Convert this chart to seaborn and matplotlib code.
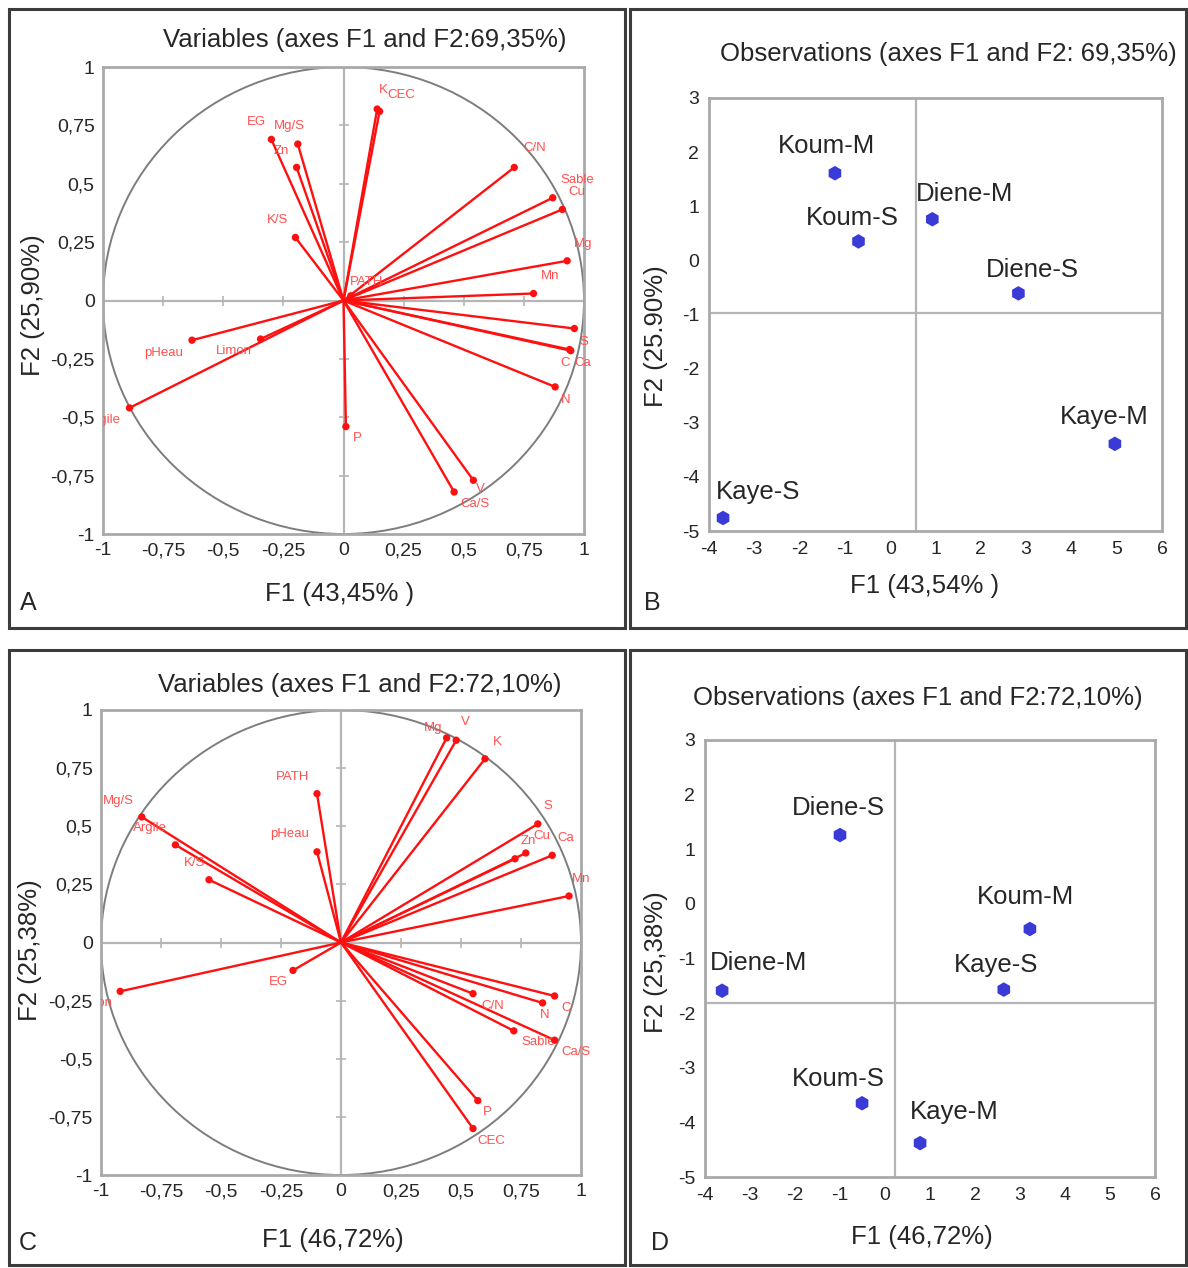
import numpy as np
import pandas as pd
import matplotlib
matplotlib.use('Agg')
import matplotlib.pyplot as plt
from matplotlib.patches import Circle, Rectangle
import seaborn as sns

# --- Panel A : variables (F1 x F2, 69,35%)
a_vars = ['EG', 'Mg/S', 'Zn', 'K/S', 'K', 'CEC', 'C/N', 'Sable', 'Cu', 'Mg', 'Mn', 'PATH',
          'S', 'C', 'Ca', 'N', 'P', 'V', 'Ca/S', 'pHeau', 'Limon', 'Argile']
a_f1 = [-0.30, -0.19, -0.195, -0.20, 0.14, 0.15, 0.71, 0.87, 0.91, 0.93, 0.79, 0.03,
        0.96, 0.94, 0.945, 0.88, 0.01, 0.54, 0.46, -0.63, -0.345, -0.89]
a_f2 = [0.69, 0.67, 0.57, 0.27, 0.82, 0.81, 0.57, 0.44, 0.39, 0.17, 0.03, 0.02,
        -0.12, -0.21, -0.215, -0.37, -0.54, -0.77, -0.82, -0.17, -0.165, -0.46]

# --- Panel C : variables (F1 x F2, 72,10%)
c_vars = ['Mg/S', 'Argile', 'K/S', 'PATH', 'pHeau', 'EG', 'Limon', 'Mg', 'V', 'K', 'S',
          'Cu', 'Zn', 'Ca', 'Mn', 'C', 'N', 'C/N', 'Sable', 'Ca/S', 'P', 'CEC']
c_f1 = [-0.83, -0.69, -0.55, -0.10, -0.10, -0.20, -0.92, 0.44, 0.48, 0.60, 0.82,
        0.77, 0.725, 0.88, 0.95, 0.89, 0.84, 0.55, 0.72, 0.89, 0.57, 0.55]
c_f2 = [0.54, 0.42, 0.27, 0.64, 0.39, -0.12, -0.21, 0.88, 0.87, 0.79, 0.51,
        0.385, 0.36, 0.375, 0.20, -0.23, -0.26, -0.22, -0.38, -0.42, -0.68, -0.80]

# --- Panel B / D : observations
b_obs = ['Koum-M', 'Diene-M', 'Koum-S', 'Diene-S', 'Kaye-M', 'Kaye-S']
b_f1 = [-1.22, 0.93, -0.70, 2.83, 4.96, -3.69]
b_f2 = [1.61, 0.76, 0.35, -0.61, -3.39, -4.76]

d_obs = ['Diene-S', 'Koum-M', 'Diene-M', 'Kaye-S', 'Koum-S', 'Kaye-M']
d_f1 = [-1.00, 3.22, -3.62, 2.64, -0.51, 0.78]
d_f2 = [1.26, -0.46, -1.59, -1.57, -3.65, -4.38]

circle_ticks = [-1, -0.75, -0.5, -0.25, 0, 0.25, 0.5, 0.75, 1]
circle_ticklabels = ['-1', '-0,75', '-0,5', '-0,25', '0', '0,25', '0,5', '0,75', '1']
obs_xticks = list(range(-4, 7))
obs_yticks = list(range(-5, 4))

# label offsets (pixels) for each variable / observation
a_off = {'EG': (-15, 17), 'Mg/S': (-8, 18), 'Zn': (-15, 16), 'K/S': (-18, 17), 'K': (6, 19),
         'CEC': (22, 16), 'C/N': (20, 19), 'Sable': (25, 18), 'Cu': (14, 17), 'Mg': (16, 17),
         'Mn': (17, 17), 'PATH': (16, 14), 'S': (9, -13), 'C': (-4, -13), 'Ca': (12, -12),
         'N': (11, -13), 'P': (11, -11), 'V': (7, -9), 'Ca/S': (21, -12), 'pHeau': (-28, -13),
         'Limon': (-27, -12), 'Argile': (-25, -12)}
c_off = {'Mg/S': (-23, 16), 'Argile': (-25, 17), 'K/S': (-14, 17), 'PATH': (-24, 17),
         'pHeau': (-27, 18), 'EG': (-15, -12), 'Limon': (-25, -12), 'Mg': (-13, 10),
         'V': (9, 18), 'K': (12, 17), 'S': (10, 18), 'Cu': (16, 17), 'Zn': (13, 18),
         'Ca': (14, 17), 'Mn': (12, 17), 'C': (12, -12), 'N': (2, -12), 'C/N': (20, -12),
         'Sable': (24, -11), 'Ca/S': (21, -12), 'P': (10, -11), 'CEC': (18, -12)}
b_off = {'Koum-M': (-8, 27), 'Diene-M': (32, 25), 'Koum-S': (-6, 23), 'Diene-S': (14, 23),
         'Kaye-M': (-11, 27), 'Kaye-S': (35, 26)}
d_off = {'Diene-S': (-2, 27), 'Koum-M': (-4, 32), 'Diene-M': (36, 28), 'Kaye-S': (-8, 25),
         'Koum-S': (-24, 24), 'Kaye-M': (34, 31)}
# labels cut by the left frame in the original
clipped = {'Argile', 'Limon'}

sns.set_style('white')
plt.rcParams['font.family'] = ['Liberation Sans', 'DejaVu Sans']
plt.rcParams['axes.unicode_minus'] = False

W, H = 1188, 1268
fig = plt.figure(figsize=(W / 100, H / 100), dpi=100)


def px_axes(x0, y0, x1, y1):
    return fig.add_axes([x0 / W, 1 - y1 / H, (x1 - x0) / W, (y1 - y0) / H])


def ftext(x, y, s, **kw):
    fig.text(x / W, 1 - y / H, s, **kw)


FRAME = '#a9a9a9'
AXLINE = '#b5b5b5'
TXT = '#262626'
BIG = 18.5


def circle_panel(ax, names, f1, f2, offsets):
    df = pd.DataFrame({'name': names, 'F1': f1, 'F2': f2})
    ax.set_xlim(-1, 1)
    ax.set_ylim(-1, 1)
    ax.axhline(0, color=AXLINE, lw=1.6, zorder=1)
    ax.axvline(0, color=AXLINE, lw=1.6, zorder=1)
    inner = [t for t in circle_ticks if t not in (-1, 0, 1)]
    ax.plot(inner, [0] * len(inner), ls='none', marker='|', ms=7, mew=1.2, color=AXLINE)
    ax.plot([0] * len(inner), inner, ls='none', marker='_', ms=7, mew=1.2, color=AXLINE)
    ax.add_patch(Circle((0, 0), 1, fill=False, ec='#7d7d7d', lw=1.4, zorder=2))
    for _, r in df.iterrows():
        ax.plot([0, r.F1], [0, r.F2], color='#ff1010', lw=1.7, zorder=3)
    sns.scatterplot(data=df, x='F1', y='F2', ax=ax, color='#ff1010', s=28,
                    edgecolor='none', zorder=4, legend=False)
    for _, r in df.iterrows():
        dx, dy = offsets[r['name']]
        ax.annotate(r['name'], (r.F1, r.F2), xytext=(dx, dy), textcoords='offset pixels',
                    ha='center', va='center', fontsize=9.5, color='#ff5050',
                    annotation_clip=False, clip_on=r['name'] in clipped)
    ax.set_xticks(circle_ticks)
    ax.set_xticklabels(circle_ticklabels)
    ax.set_yticks(circle_ticks)
    ax.set_yticklabels(circle_ticklabels)
    ax.tick_params(length=0, labelsize=14, labelcolor=TXT, pad=6)
    ax.set_xlabel('')
    ax.set_ylabel('')
    for sp in ax.spines.values():
        sp.set_color(FRAME)
        sp.set_linewidth(2)


def obs_panel(ax, names, f1, f2, offsets, vx, hy):
    df = pd.DataFrame({'name': names, 'F1': f1, 'F2': f2})
    ax.set_xlim(-4, 6)
    ax.set_ylim(-5, 3)
    ax.axvline(vx, color=AXLINE, lw=1.6, zorder=1)
    ax.axhline(hy, color=AXLINE, lw=1.6, zorder=1)
    sns.scatterplot(data=df, x='F1', y='F2', ax=ax, color='#3a3ad6', marker='h', s=110,
                    edgecolor='none', zorder=3, legend=False)
    for _, r in df.iterrows():
        dx, dy = offsets[r['name']]
        ax.annotate(r['name'], (r.F1, r.F2), xytext=(dx, dy), textcoords='offset pixels',
                    ha='center', va='center', fontsize=BIG, color=TXT)
    ax.set_xticks(obs_xticks)
    ax.set_yticks(obs_yticks)
    ax.tick_params(length=0, labelsize=14, labelcolor=TXT, pad=7)
    ax.set_xlabel('')
    ax.set_ylabel('')
    for sp in ax.spines.values():
        sp.set_color(FRAME)
        sp.set_linewidth(2)


axA = px_axes(103, 67, 584, 534)
circle_panel(axA, a_vars, a_f1, a_f2, a_off)
axC = px_axes(101, 710, 581, 1175)
circle_panel(axC, c_vars, c_f1, c_f2, c_off)
axB = px_axes(709, 98, 1162, 531)
obs_panel(axB, b_obs, b_f1, b_f2, b_off, 0.58, -0.98)
axD = px_axes(705, 740, 1155, 1177)
obs_panel(axD, d_obs, d_f1, d_f2, d_off, 0.22, -1.82)

# titles, axis titles, panel letters
ftext(365, 40, 'Variables (axes F1 and F2:69,35%)', ha='center', va='center', fontsize=BIG, color=TXT)
ftext(948, 54, 'Observations (axes F1 and F2: 69,35%)', ha='center', va='center', fontsize=BIG, color=TXT)
ftext(360, 685, 'Variables (axes F1 and F2:72,10%)', ha='center', va='center', fontsize=BIG, color=TXT)
ftext(918, 698, 'Observations (axes F1 and F2:72,10%)', ha='center', va='center', fontsize=BIG, color=TXT)

ftext(340, 594, 'F1 (43,45% )', ha='center', va='center', fontsize=BIG, color=TXT)
ftext(925, 586, 'F1 (43,54% )', ha='center', va='center', fontsize=BIG, color=TXT)
ftext(333, 1240, 'F1 (46,72%)', ha='center', va='center', fontsize=BIG, color=TXT)
ftext(922, 1237, 'F1 (46,72%)', ha='center', va='center', fontsize=BIG, color=TXT)
ftext(33, 305, 'F2 (25,90%)', ha='center', va='center', rotation=90, fontsize=BIG, color=TXT)
ftext(656, 336, 'F2 (25.90%)', ha='center', va='center', rotation=90, fontsize=BIG, color=TXT)
ftext(30, 950, 'F2 (25,38%)', ha='center', va='center', rotation=90, fontsize=BIG, color=TXT)
ftext(656, 962, 'F2 (25,38%)', ha='center', va='center', rotation=90, fontsize=BIG, color=TXT)

for lx, ly, s in [(28, 603, 'A'), (652, 603, 'B'), (28, 1243, 'C'), (660, 1243, 'D')]:
    ftext(lx, ly, s, ha='center', va='center', fontsize=18, color=TXT)

# panel borders
for x0, y0, x1, y1 in [(9, 9, 625, 628), (630, 9, 1186, 628),
                       (9, 650, 625, 1265), (630, 650, 1186, 1265)]:
    fig.add_artist(Rectangle((x0 / W, 1 - y1 / H), (x1 - x0) / W, (y1 - y0) / H,
                             transform=fig.transFigure, fill=False, ec='#3c3c3c', lw=2.2))

fig.savefig('out.png', dpi=100)
